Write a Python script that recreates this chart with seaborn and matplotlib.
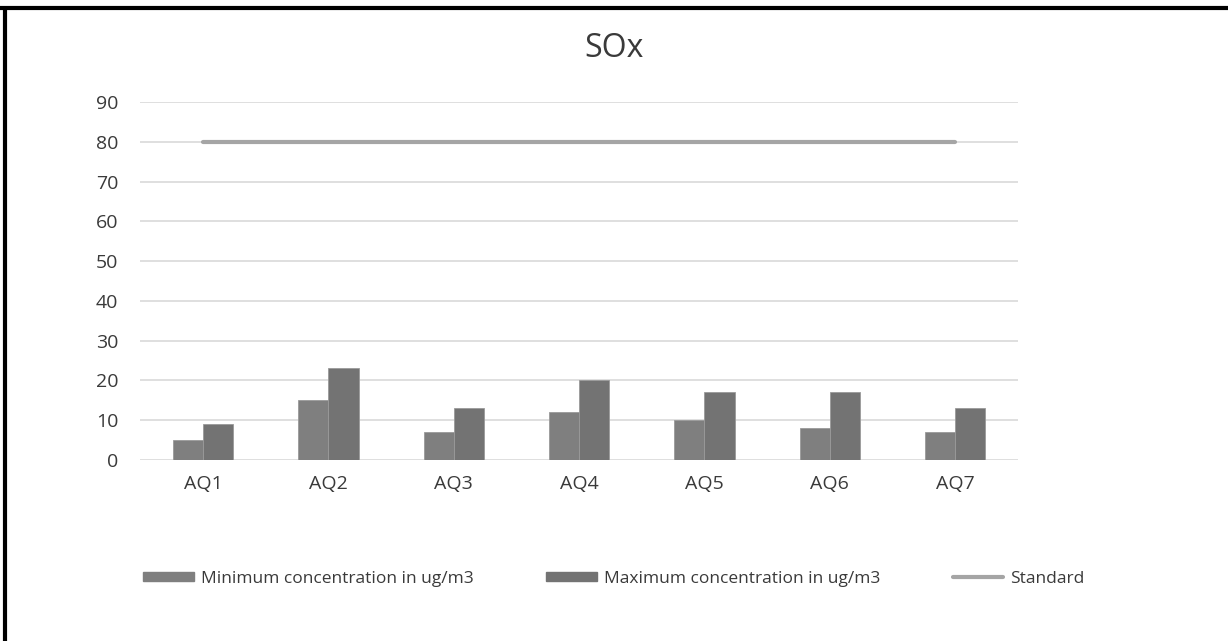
import matplotlib
matplotlib.use("Agg")
import matplotlib.pyplot as plt
import seaborn as sns
import pandas as pd
from matplotlib.patches import Patch
from matplotlib.lines import Line2D

categories = ["AQ1", "AQ2", "AQ3", "AQ4", "AQ5", "AQ6", "AQ7"]
min_conc = [5, 15, 7, 12, 10, 8, 7]
max_conc = [9, 23, 13, 20, 17, 17, 13]
standard = [80, 80, 80, 80, 80, 80, 80]
series_names = ["Minimum concentration in ug/m3", "Maximum concentration in ug/m3", "Standard"]
yticks = [0, 10, 20, 30, 40, 50, 60, 70, 80, 90]

sns.set_theme(style="white")
plt.rcParams['font.family'] = ['Open Sans', 'DejaVu Sans']

c_min = "#7f7f7f"
c_max = "#737373"
c_std = "#a5a5a5"
txt = "#3a3a3a"

df = pd.DataFrame({
    "site": categories * 2,
    "value": min_conc + max_conc,
    "series": [series_names[0]] * len(categories) + [series_names[1]] * len(categories),
})

fig = plt.figure(figsize=(12.28, 6.41), dpi=100)
ax = fig.add_axes([0.1144, 0.2824, 0.7144, 0.5585])

sns.barplot(data=df, x="site", y="value", hue="series", order=categories,
            hue_order=series_names[:2], palette=[c_min, c_max], width=0.48,
            gap=0, dodge=True, ax=ax, legend=False, saturation=1,
            edgecolor="#9a9a9a", linewidth=0.6)

sns.lineplot(x=categories, y=standard, ax=ax, color=c_std, linewidth=3, sort=False)

ax.set_ylim(0, 90)
ax.set_xlim(-0.5, len(categories) - 0.5)
ax.set_yticks(yticks)
ax.yaxis.grid(True, color="#d9d9d9", linewidth=1.2)
ax.set_axisbelow(True)
for s in ax.spines.values():
    s.set_visible(False)
ax.set_xlabel("")
ax.set_ylabel("")
ax.tick_params(axis="y", length=0, pad=16, labelsize=14, labelcolor=txt)
ax.tick_params(axis="x", length=0, pad=11, labelsize=14, labelcolor=txt)

fig.text(0.5, 0.925, "SOx", ha="center", va="center", fontsize=23, color=txt)

handles = [Patch(facecolor=c_min, edgecolor=c_min),
           Patch(facecolor=c_max, edgecolor=c_max),
           Line2D([0], [0], color=c_std, linewidth=3)]
fig.legend(handles, series_names, loc="center", bbox_to_anchor=(0.5, 0.097), ncol=3,
           frameon=False, fontsize=12.5, labelcolor=txt, handlelength=2.9,
           handleheight=0.46, handletextpad=0.4, columnspacing=4.2)

# partial black frame (top and left edges)
fig.add_artist(Line2D([0, 1], [1 - 7.5 / 641, 1 - 7.5 / 641], transform=fig.transFigure,
                      color="black", linewidth=3, solid_capstyle="butt"))
fig.add_artist(Line2D([5 / 1228, 5 / 1228], [0, 1 - 6 / 641], transform=fig.transFigure,
                      color="black", linewidth=3, solid_capstyle="butt"))

fig.savefig("out.png", dpi=100)
